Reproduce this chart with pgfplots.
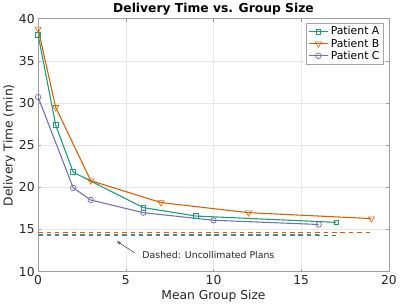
\documentclass[border=0pt]{standalone}
\usepackage{fontspec}
\setmainfont{DejaVu Sans}
\usepackage{pgfplots}
\pgfplotsset{compat=1.18}
\usetikzlibrary{arrows.meta}

\definecolor{cA}{RGB}{27,158,119}
\definecolor{cB}{RGB}{217,95,2}
\definecolor{cC}{RGB}{117,112,179}

\begin{document}
\begin{tikzpicture}
\begin{axis}[
  scale only axis,
  width=355bp, height=256bp,
  xmin=0, xmax=20, ymin=10, ymax=40,
  xtick={0,5,10,15,20}, ytick={10,15,20,25,30,35,40},
  grid=major,
  major grid style={line width=0.5pt, draw=gray!18},
  axis line style={draw=gray!75, line width=0.6pt},
  tick style={draw=gray!75, line width=0.6pt},
  tick align=inside,
  major tick length=3bp,
  /pgf/number format/assume math mode=true,
  ticklabel style={font=\fontsize{12.5}{14}\selectfont, text=black!85},
  xlabel={Mean Group Size},
  ylabel={Delivery Time (min)},
  label style={font=\fontsize{12.5}{15}\selectfont, text=black!85},
  xlabel style={yshift=1bp},
  ylabel style={yshift=-3bp},
  title={\textbf{Delivery Time vs. Group Size}},
  title style={font=\fontsize{12.5}{15}\selectfont, yshift=-6bp},
  legend style={font=\fontsize{11}{12}\selectfont, draw=gray!70,
    inner sep=2bp, row sep=-1.5bp, at={(0.985,0.985)}, anchor=north east,
    cells={anchor=west}},
  legend cell align=left,
  legend image code/.code={
    \draw[mark repeat=2, mark phase=2]
      plot coordinates {(0bp,0bp) (10bp,0bp) (20bp,0bp)};},
  every axis plot/.append style={line width=1.1pt},
]
% Collimated plans per patient
\addplot[cA, mark=square, mark size=2.4pt,
  mark options={solid, fill=white, line width=0.75pt}] coordinates {
  (0,38.1) (1,27.4) (2,21.8) (6,17.6) (9,16.6) (17,15.85)};
\addlegendentry{Patient A}
\addplot[cB, mark=triangle, mark size=3.6pt,
  mark options={solid, fill=white, line width=0.6pt, rotate=180}] coordinates {
  (0,38.8) (1,29.5) (3,20.8) (7,18.2) (12,17.0) (19,16.3)};
\addlegendentry{Patient B}
\addplot[cC, mark=o, mark size=2.8pt,
  mark options={solid, fill=white, line width=0.75pt}] coordinates {
  (0,30.7) (2,19.95) (3,18.5) (6,17.0) (10,16.1) (16,15.6)};
\addlegendentry{Patient C}

% Uncollimated reference times
\addplot[draw=cB, dash pattern=on 4.5bp off 4bp, forget plot, line width=1.4pt]
  coordinates {(0,14.68) (19,14.68)};
\addplot[draw=cC, dash pattern=on 4.5bp off 4bp, forget plot, line width=1.4pt]
  coordinates {(0,14.42) (16,14.42)};
\addplot[draw=cA, dash pattern=on 4.5bp off 4bp, forget plot, line width=1.4pt]
  coordinates {(0,14.26) (17,14.26)};

\draw[-{Stealth[length=4bp,width=3bp]}, line width=0.5pt, black!80]
  (axis cs:5.5,12.25) -- (axis cs:4.5,13.6);
\node[anchor=west, font=\fontsize{9.5}{11}\selectfont, text=black!85]
  at (axis cs:5.75,12.0) {Dashed: Uncollimated Plans};
\end{axis}
\end{tikzpicture}
\end{document}
